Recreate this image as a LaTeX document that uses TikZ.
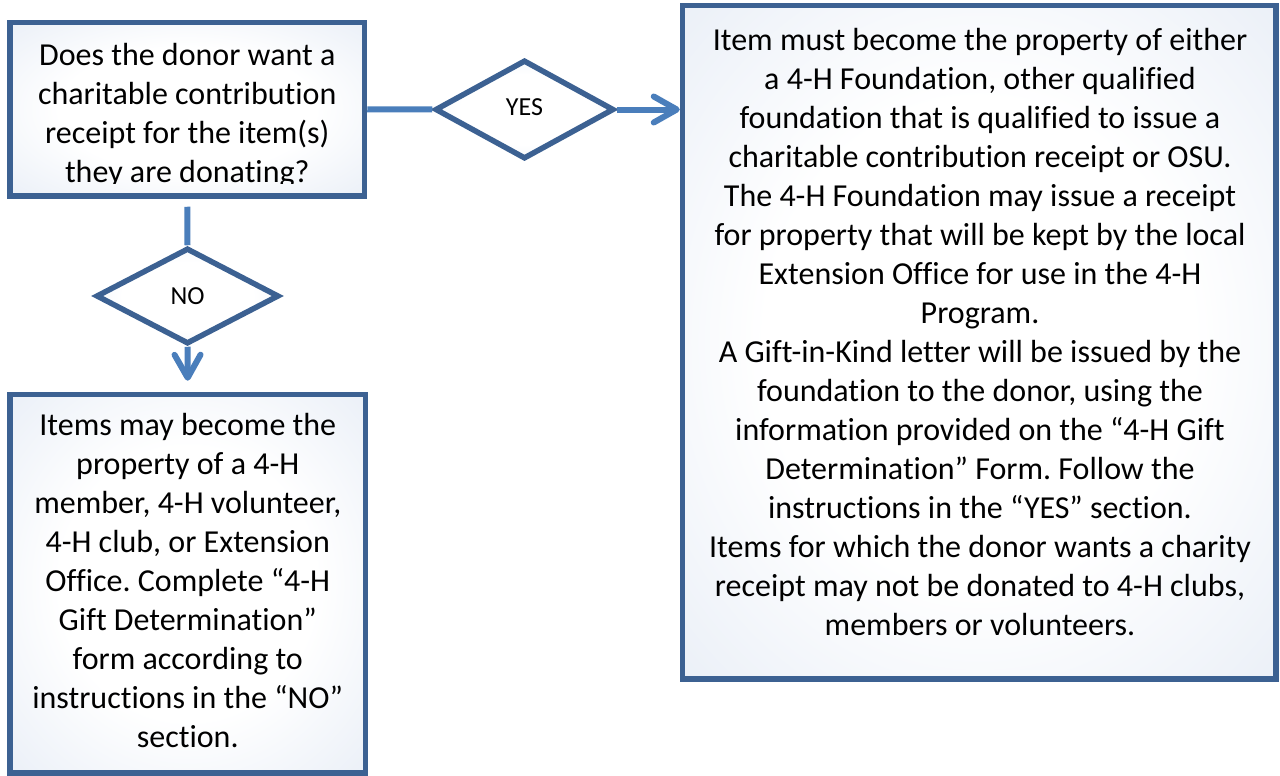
\documentclass[tikz,border=0pt]{standalone}
\usepackage{fontspec}
\setmainfont{Carlito}[Ligatures={NoCommon}]
\usetikzlibrary{shapes.geometric,arrows.meta}
\definecolor{edgeblue}{RGB}{60,97,146}
\definecolor{linkblue}{RGB}{74,126,187}
\definecolor{shadeblue}{RGB}{200,213,234}
\definecolor{shademid}{RGB}{218,227,241}
\pgfdeclareradialshading{softglow}{\pgfpoint{0bp}{0bp}}{color(0bp)=(white); color(18bp)=(white); color(50bp)=(shademid); color(71bp)=(shadeblue)}
\newcommand{\myTopStrut}{\rule{0pt}{30pt}}
\newcommand{\myBotStrut}{\rule[-10pt]{0pt}{10pt}}
\tikzset{
  box/.style={rectangle, draw=edgeblue, line width=5.5pt, shading=softglow, inner sep=0pt},
  choice/.style={diamond, draw=edgeblue, line width=5.5pt, shading=softglow, inner sep=0pt, font=\fontsize{26}{30}\selectfont},
  boxtext/.style={anchor=north, align=center, inner sep=0pt, font=\fontsize{32}{39}\selectfont},
  link/.style={draw=linkblue, line width=6pt},
  arrowlink/.style={link, -{Straight Barb[length=23pt, width=26pt, round]}}
}
\begin{document}
\frenchspacing
\begin{tikzpicture}[x=1pt, y=-1pt]
\useasboundingbox (0,0) rectangle (1280,776);
\fill[white] (0,0) rectangle (1280,776);
% boxes
\node[box, minimum width=354.5pt, minimum height=173.5pt] (q) at (187.25,109.25) {};
\node[box, minimum width=593.5pt, minimum height=673.5pt] (big) at (979.25,342.25) {};
\node[box, minimum width=355.5pt, minimum height=378.5pt] (low) at (187.75,583.75) {};
% decisions
\node[choice, minimum width=179pt, minimum height=99pt, text depth=5pt] (yes) at (524.5,109.5) {YES};
\node[choice, minimum width=183pt, minimum height=96pt] (no) at (187.5,296) {NO};
% connectors
\draw[link] (q.east) -- (yes.west);
\draw[arrowlink] (yes.east) -- (yes.east -| big.west);
\draw[link, shorten <=8pt] (q.south) -- (no.north);
\draw[arrowlink, shorten >=11pt] (no.south) -- (low.north);
% texts
\begin{scope}
\clip (12,25) rectangle (362,183);
\node[boxtext] (qtext) at (187.25,35) {\myTopStrut Does the donor want a\\ charitable contribution\\ receipt for the item(s)\\ they are donating?\myBotStrut};
\end{scope}
\node[boxtext] (bigtext) at (980,20) {\myTopStrut Item must become the property of either\\ a 4-H Foundation, other qualified\\ foundation that is qualified to issue a\\ charitable contribution receipt or OSU.\\ The 4-H Foundation may issue a receipt\\ for property that will be kept by the local\\ Extension Office for use in the 4-H\\ Program.\\ A Gift-in-Kind letter will be issued by the\\ foundation to the donor, using the\\ information provided on the “4-H Gift\\ Determination” Form. Follow the\\ instructions in the “YES” section.\\ Items for which the donor wants a charity\\ receipt may not be donated to 4-H clubs,\\ members or volunteers.\myBotStrut};
\node[boxtext] (lowtext) at (187.75,405) {\myTopStrut Items may become the\\ property of a 4-H\\ member, 4-H volunteer,\\ 4-H club, or Extension\\ Office. Complete “4-H\\ Gift Determination”\\ form according to\\ instructions in the “NO”\\ section.\myBotStrut};
\end{tikzpicture}
\end{document}
